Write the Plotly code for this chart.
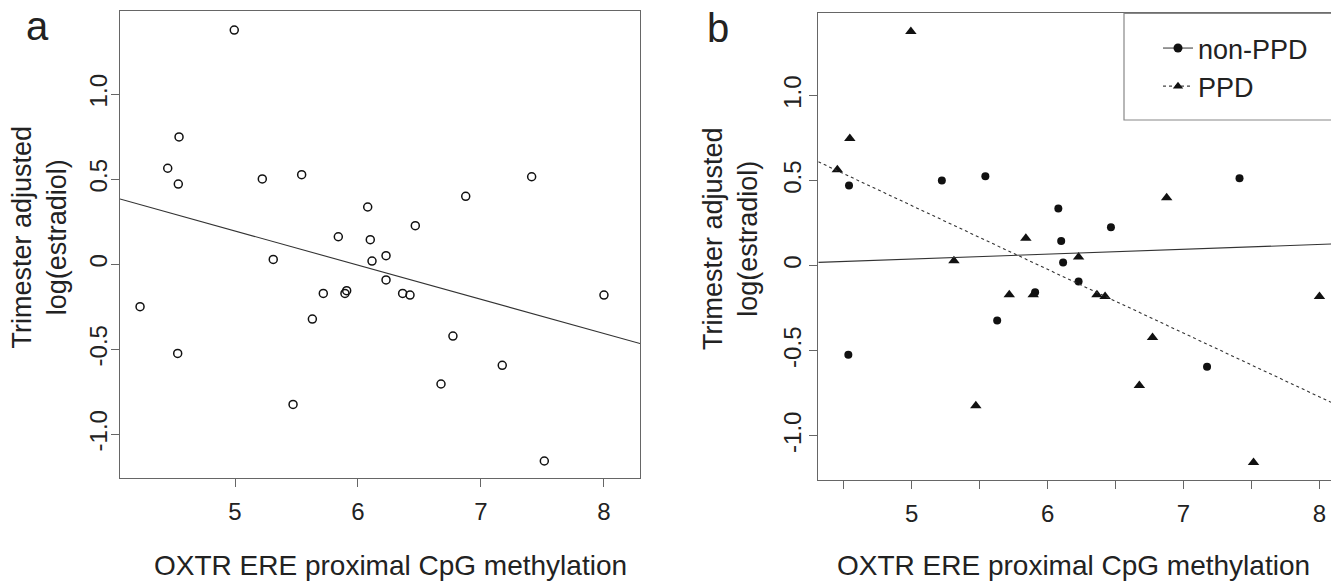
import numpy as np
import plotly.graph_objects as go

# ---------------- data ----------------
# Panel a: all subjects
meth_all = [4.994, 4.545, 4.453, 4.539, 5.222, 5.542, 5.311, 5.718, 7.412, 6.876,
            6.079, 6.466, 5.840, 6.100, 6.228, 6.114, 6.228, 5.894, 5.908, 6.363,
            6.423, 8.000, 4.228, 5.629, 4.534, 5.472, 6.772, 7.173, 6.675, 7.515]
estr_all = [1.378, 0.749, 0.565, 0.472, 0.502, 0.527, 0.029, -0.171, 0.515, 0.400,
            0.337, 0.227, 0.162, 0.145, 0.051, 0.019, -0.092, -0.171, -0.155, -0.171,
            -0.181, -0.181, -0.249, -0.322, -0.524, -0.824, -0.422, -0.594, -0.704, -1.157]

# Panel b: split by group
meth_nonppd = [4.539, 5.222, 5.542, 7.412, 6.079, 6.466, 6.100, 6.114, 6.228, 5.908,
               5.629, 4.534, 7.173]
estr_nonppd = [0.472, 0.502, 0.527, 0.515, 0.337, 0.227, 0.145, 0.019, -0.092, -0.155,
               -0.322, -0.524, -0.594]
meth_ppd = [4.994, 4.545, 4.453, 5.311, 5.718, 6.876, 5.840, 6.228, 5.894, 6.363,
            6.423, 8.000, 5.472, 6.772, 6.675, 7.515]
estr_ppd = [1.378, 0.749, 0.565, 0.029, -0.171, 0.400, 0.162, 0.051, -0.171, -0.171,
            -0.181, -0.181, -0.824, -0.422, -0.704, -1.157]

# fitted regression lines (intercept, slope)
fit_all = (1.201, -0.201)
fit_nonppd = (-0.104, 0.0287)
fit_ppd = (2.229, -0.375)

group_names = ["non-PPD", "PPD"]
x_title = "OXTR ERE proximal CpG methylation"
y_title = "Trimester adjusted<br>log(estradiol)"
panel_labels = ["a", "b"]

xticks_a = [5, 6, 7, 8]
xtick_text_a = ["5", "6", "7", "8"]
xticks_b = [4.5, 5, 5.5, 6, 6.5, 7, 7.5, 8]
xtick_text_b = ["", "5", "", "6", "", "7", "", "8"]
yticks = [-1.0, -0.5, 0, 0.5, 1.0]
ytick_text = ["-1.0", "-0.5", "0", "0.5", "1.0"]

# ---------------- layout geometry ----------------
W, H = 1331, 583
xr_a = [4.065, 8.293]
yr_a = [-1.257, 1.49]
xr_b = [4.313, 8.085]
yr_b = [-1.26, 1.485]

FONT = "Liberation Sans, Arial, Helvetica, sans-serif"
TXT = "#222222"
AX = "#666666"
INK = "#111111"


def line_pts(fit, xr):
    xs = np.array(xr, dtype=float)
    return xs, fit[0] + fit[1] * xs


fig = go.Figure()

# Panel a
fig.add_trace(go.Scatter(x=meth_all, y=estr_all, mode="markers", xaxis="x", yaxis="y",
                         marker=dict(symbol="circle-open", size=8, color=INK,
                                     line=dict(width=1.5, color=INK)),
                         showlegend=False))
lx, ly = line_pts(fit_all, xr_a)
fig.add_trace(go.Scatter(x=lx, y=ly, mode="lines", xaxis="x", yaxis="y",
                         line=dict(color="#333333", width=1.1), showlegend=False))

# Panel b
fig.add_trace(go.Scatter(x=meth_nonppd, y=estr_nonppd, mode="markers", xaxis="x2", yaxis="y2",
                         marker=dict(symbol="circle", size=8, color=INK), showlegend=False))
fig.add_trace(go.Scatter(x=meth_ppd, y=estr_ppd, mode="markers", xaxis="x2", yaxis="y2",
                         marker=dict(symbol="triangle-up", size=10, color=INK), showlegend=False))
lx, ly = line_pts(fit_nonppd, xr_b)
fig.add_trace(go.Scatter(x=lx, y=ly, mode="lines", xaxis="x2", yaxis="y2",
                         line=dict(color="#333333", width=1.1), showlegend=False))
lx, ly = line_pts(fit_ppd, xr_b)
fig.add_trace(go.Scatter(x=lx, y=ly, mode="lines", xaxis="x2", yaxis="y2",
                         line=dict(color="#333333", width=1.1, dash="3px,3px"), showlegend=False))

# legend-only entries
fig.add_trace(go.Scatter(x=[None], y=[None], mode="lines+markers", xaxis="x2", yaxis="y2",
                         name=group_names[0],
                         marker=dict(symbol="circle", size=9, color=INK),
                         line=dict(color="#444444", width=1.1)))
fig.add_trace(go.Scatter(x=[None], y=[None], mode="lines+markers", xaxis="x2", yaxis="y2",
                         name=group_names[1],
                         marker=dict(symbol="triangle-up", size=9, color=INK),
                         line=dict(color="#444444", width=1.1, dash="3px,3px")))


def px_x(p):
    return p / W


def px_y(p):
    return 1 - p / H


common_axis = dict(showline=True, linecolor=AX, linewidth=1.3, ticks="outside", ticklen=8,
                   tickcolor=AX, tickwidth=1.3, showgrid=False, zeroline=False,
                   tickfont=dict(family=FONT, size=24, color=TXT))

fig.update_layout(
    width=W, height=H,
    margin=dict(l=0, r=0, t=0, b=0),
    paper_bgcolor="white", plot_bgcolor="white",
    font=dict(family=FONT, color=TXT),
    xaxis=dict(domain=[px_x(120), px_x(640)], range=xr_a, tickvals=xticks_a,
               ticktext=xtick_text_a, mirror=True, anchor="y", ticklabelstandoff=4,
               **common_axis),
    yaxis=dict(domain=[px_y(478), px_y(11)], range=yr_a, tickvals=yticks,
               ticktext=ytick_text, tickangle=-90, mirror=True, anchor="x",
               ticklabelstandoff=-6, **common_axis),
    xaxis2=dict(domain=[px_x(818.3), 1.0], range=xr_b, tickvals=xticks_b,
                ticktext=xtick_text_b, mirror=True, anchor="y2", ticklabelstandoff=4,
                **common_axis),
    yaxis2=dict(domain=[px_y(480), px_y(13.3)], range=yr_b, tickvals=yticks,
                ticktext=ytick_text, tickangle=-90, mirror=False, anchor="x2",
                ticklabelstandoff=-1, **common_axis),
    showlegend=True,
    legend=dict(x=px_x(1158), xanchor="left", y=px_y(24), yanchor="top",
                bgcolor="rgba(0,0,0,0)", borderwidth=0,
                font=dict(family=FONT, size=27, color=TXT), tracegroupgap=0),
)

# legend box (R-style, runs off the right edge)
fig.add_shape(type="rect", xref="paper", yref="paper",
              x0=px_x(1124), x1=1.02, y0=px_y(120), y1=px_y(13.3),
              line=dict(color="#888888", width=1.2), fillcolor="rgba(0,0,0,0)")

ann = []
ann.append(dict(text=panel_labels[0], x=px_x(37), y=px_y(26), xref="paper", yref="paper",
                showarrow=False, xanchor="center", yanchor="middle",
                font=dict(family=FONT, size=40, color=TXT)))
ann.append(dict(text=panel_labels[1], x=px_x(718), y=px_y(28), xref="paper", yref="paper",
                showarrow=False, xanchor="center", yanchor="middle",
                font=dict(family=FONT, size=40, color=TXT)))
for cx in (390, 1073):
    ann.append(dict(text=x_title, x=px_x(cx), y=px_y(565), xref="paper", yref="paper",
                    showarrow=False, xanchor="center", yanchor="middle",
                    font=dict(family=FONT, size=28, color=TXT)))
for cx, cy in ((38.5, 237), (731, 239)):
    ann.append(dict(text=y_title, x=px_x(cx), y=px_y(cy), xref="paper", yref="paper",
                    showarrow=False, xanchor="center", yanchor="middle", textangle=-90,
                    font=dict(family=FONT, size=27, color=TXT)))
fig.update_layout(annotations=ann)

fig.write_html("out.html",
               config={"displayModeBar": False},
               post_script="document.body.style.margin='0';document.body.style.overflow='hidden';")
